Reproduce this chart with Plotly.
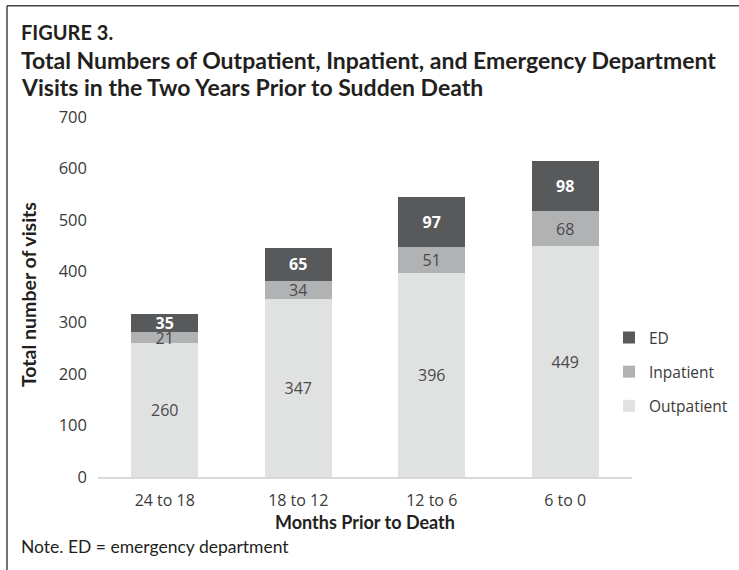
import plotly.graph_objects as go

# ---- data ----
categories = ["24 to 18", "18 to 12", "12 to 6", "6 to 0"]
outpatient = [260, 347, 396, 449]
inpatient = [21, 34, 51, 68]
ed = [35, 65, 97, 98]
y_ticks = [0, 100, 200, 300, 400, 500, 600, 700]

W, H = 739, 570
L, R, T, B = 98, 632, 116.5, 477.5   # plot area in pixels


def px(x):
    return (x - L) / (R - L)


def py(y):
    return (B - y) / (B - T)


BODY = "Open Sans"
HEAD = "Lato"
TXT = "#3a3a3a"
DARK = "#231f20"

fig = go.Figure()
fig.add_trace(go.Bar(
    name="Outpatient", x=categories, y=outpatient, marker_color="#e0e1e1",
    text=outpatient, textfont=dict(family=BODY, size=16, color="#4a4a4a"),
    legendgroup="o", legendrank=3,
))
fig.add_trace(go.Bar(
    name="Inpatient", x=categories, y=inpatient, marker_color="#b1b2b4",
    text=inpatient, textfont=dict(family=BODY, size=16, color="#4a4a4a"),
    legendgroup="i", legendrank=2,
))
fig.add_trace(go.Bar(
    name="ED", x=categories, y=ed, marker_color="#58595b",
    text=ed, textfont=dict(family=BODY, size=16, color="white", weight="bold"),
    legendgroup="e", legendrank=1,
))

fig.update_traces(marker_line_width=0, cliponaxis=False, textposition="inside",
                  insidetextanchor="middle", textangle=0, constraintext="none")

shapes = [
    dict(type="line", xref="paper", yref="paper", x0=px(7), x1=px(7), y0=py(5), y1=py(572),
         line=dict(color="#444444", width=1.5)),
    dict(type="line", xref="paper", yref="paper", x0=px(7), x1=px(741), y0=py(5), y1=py(5),
         line=dict(color="#444444", width=1.5)),
]

annotations = [
    dict(text="<b>FIGURE 3.</b>", x=px(19), y=py(31), xref="paper", yref="paper",
         xanchor="left", yanchor="middle", showarrow=False,
         font=dict(family=HEAD, size=20, color=DARK)),
    dict(text="<b>Total Numbers of Outpatient, Inpatient, and Emergency Department</b>",
         x=px(19), y=py(59), xref="paper", yref="paper", xanchor="left", yanchor="middle",
         showarrow=False, font=dict(family=HEAD, size=23, color=DARK)),
    dict(text="<b>Visits in the Two Years Prior to Sudden Death</b>",
         x=px(19), y=py(86), xref="paper", yref="paper", xanchor="left", yanchor="middle",
         showarrow=False, font=dict(family=HEAD, size=23, color=DARK)),
    dict(text="<b>Total number of visits</b>", x=px(28), y=py(295), xref="paper", yref="paper",
         xanchor="center", yanchor="middle", textangle=-90, showarrow=False,
         font=dict(family=HEAD, size=19.5, color=DARK)),
    dict(text="<b>Months Prior to Death</b>", x=px(365), y=py(523), xref="paper", yref="paper",
         xanchor="center", yanchor="middle", showarrow=False,
         font=dict(family=HEAD, size=18, color=DARK)),
    dict(text="Note. ED = emergency department", x=px(19), y=py(547), xref="paper", yref="paper",
         xanchor="left", yanchor="middle", showarrow=False,
         font=dict(family=HEAD, size=17.5, color=DARK)),
]

fig.update_layout(
    width=W, height=H, autosize=False,
    margin=dict(l=L, r=W - R, t=T, b=H - B, pad=0, autoexpand=False),
    paper_bgcolor="white", plot_bgcolor="white",
    barmode="stack", bargap=0.5,
    uniformtext=dict(minsize=14, mode="show"),
    font=dict(family=BODY, color=TXT),
    shapes=shapes, annotations=annotations,
    legend=dict(
        x=px(609), y=py(321), xanchor="left", yanchor="top",
        traceorder="grouped", tracegroupgap=11,
        font=dict(family=BODY, size=15.5, color=TXT), bgcolor="rgba(0,0,0,0)",
    ),
    xaxis=dict(
        showline=True, linecolor="#d9d9d9", linewidth=1.5, showgrid=False,
        ticks="", tickfont=dict(family=BODY, size=16, color=TXT), ticklabelstandoff=8,
        automargin=False,
    ),
    yaxis=dict(
        range=[0, 700], tickvals=y_ticks, showgrid=False, showline=False, zeroline=False,
        ticks="", tickfont=dict(family=BODY, size=16.5, color=TXT), ticklabelstandoff=10,
        automargin=False,
    ),
)

fig.write_html("out.html", config={"displayModeBar": False},
               post_script="document.body.style.margin='0';")
